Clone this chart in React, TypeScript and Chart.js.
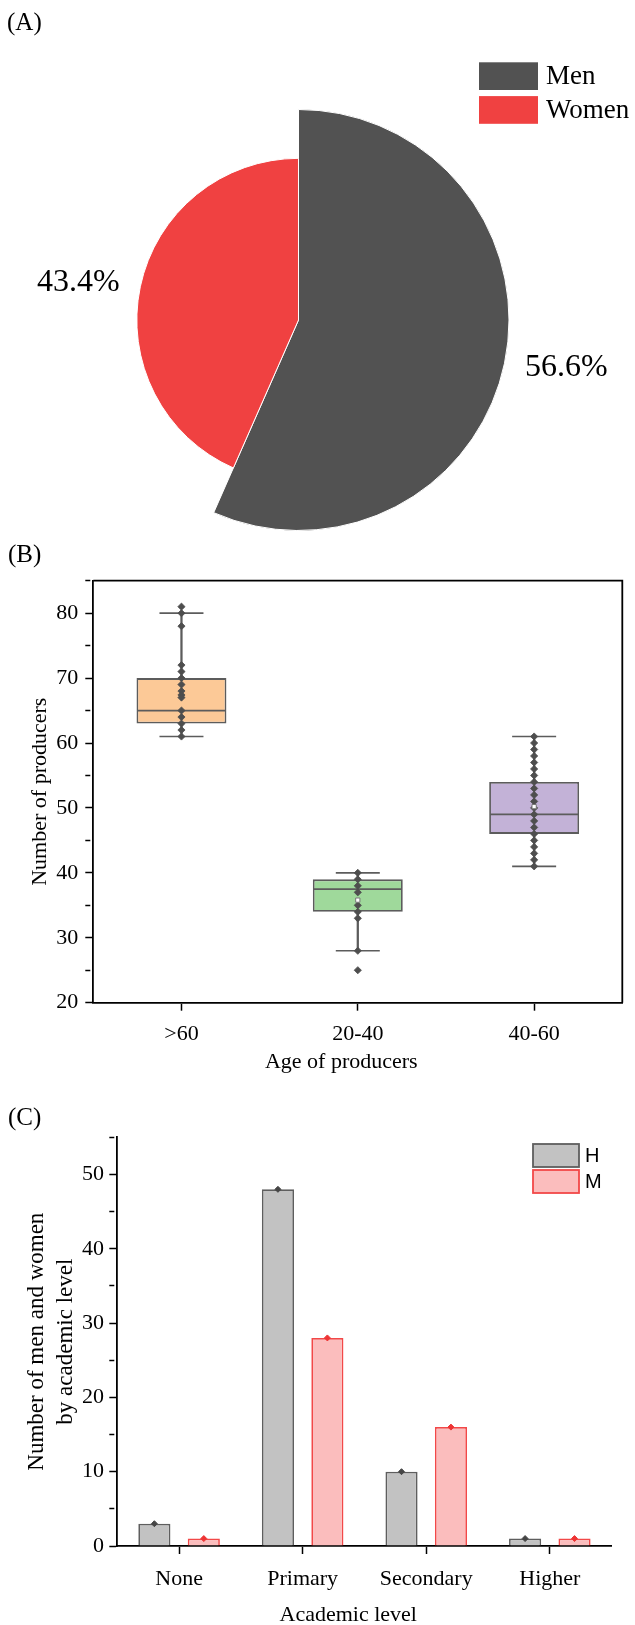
import React, { useEffect, useRef } from 'react';
import { Chart, registerables } from 'chart.js';

Chart.register(...registerables);

const SERIF = "'Liberation Serif', 'Times New Roman', Times, serif";
const SANS = "'Liberation Sans', Arial, sans-serif";

// ---------------- data ----------------
// (A) gender shares
const genderLabels = ['Men', 'Women'];
const genderShares = [56.6, 43.4];

// (B) age of producers
const ageGroups = ['>60', '20-40', '40-60'];
const ageQ1 = [63, 34, 46];
const ageQ3 = [70, 39, 54];
const ageMedian = [65, 37.5, 49];
const ageWhiskerLow = [61, 28, 41];
const ageWhiskerHigh = [80, 40, 61];
const ageMean = [null, 35.8, 50.2];
const agePointsOver60 = [81, 80, 78, 72, 71, 70, 69, 68, 67.4, 67, 65, 64, 63, 62, 61];
const agePoints20to40 = [40, 39, 38, 37, 35, 34, 33, 28, 25];
const agePoints40to60 = [61, 60, 59, 58, 57, 56, 55, 54, 53, 52, 51, 50, 49, 48, 47, 46, 45, 44, 43, 42, 41];
const ageYMin = 20;
const ageYMax = 85;

// (C) academic level
const academicLevels = ['None', 'Primary', 'Secondary', 'Higher'];
const seriesNames = ['H', 'M'];
const menByLevel = [3, 48, 10, 1];
const womenByLevel = [1, 28, 16, 1];
const levelYMin = 0;
const levelYMax = 55;

// ---------------- styles ----------------
const PIE_COLORS = ['#525252', '#F04141'];
const PIE_RADIUS_SCALE = [1, 0.768];
const BOX_FILLS = ['#FCC997', '#9FD99B', '#C3B2D7'];
const BOX_LINE = '#5C5C5C';
const DOT = '#4E4E4E';
const BAR_FILLS = ['#C2C2C2', '#FBBDBD'];
const BAR_LINES = ['#5E5E5E', '#F24848'];
const BAR_DOTS = ['#454545', '#EE3434'];
const AXIS_W = 1.8;
const GROUP_WIDTH = 0.8; // share of a category taken by the pair of bars
const GROUP_SHIFT = GROUP_WIDTH / 4; // centre of each bar relative to the category centre

const panelLabel = (text: string, x: number, y: number) => ({
  id: 'panelLabel',
  afterDraw(chart: any) {
    const ctx = chart.ctx;
    ctx.save();
    ctx.font = `25px ${SERIF}`;
    ctx.fillStyle = '#000';
    ctx.textAlign = 'left';
    ctx.textBaseline = 'alphabetic';
    ctx.fillText(text, x, y);
    ctx.restore();
  },
});

const xTitle = (text: string, dx: number, baseline: number) => ({
  id: 'xTitle',
  afterDraw(chart: any) {
    const { left, right } = chart.chartArea;
    const ctx = chart.ctx;
    ctx.save();
    ctx.font = `22px ${SERIF}`;
    ctx.fillStyle = '#000';
    ctx.textAlign = 'center';
    ctx.textBaseline = 'alphabetic';
    ctx.fillText(text, (left + right) / 2 + dx, baseline);
    ctx.restore();
  },
});

function pieConfig(): any {
  const radiusPlugin = {
    id: 'sliceRadius',
    afterDatasetsUpdate(chart: any) {
      const meta = chart.getDatasetMeta(0);
      meta.data.forEach((arc: any, i: number) => {
        arc.outerRadius = arc.outerRadius * PIE_RADIUS_SCALE[i];
      });
    },
  };
  const labelPlugin = {
    id: 'pieText',
    afterDraw(chart: any) {
      const ctx = chart.ctx;
      const meta = chart.getDatasetMeta(0);
      ctx.save();
      ctx.fillStyle = '#000';
      ctx.font = `32px ${SERIF}`;
      ctx.textBaseline = 'middle';
      meta.data.forEach((arc: any, i: number) => {
        const mid = (arc.startAngle + arc.endAngle) / 2;
        const r = arc.outerRadius + 21;
        const lx = arc.x + Math.cos(mid) * r;
        const ly = arc.y + Math.sin(mid) * r;
        ctx.textAlign = Math.cos(mid) >= 0 ? 'left' : 'right';
        ctx.fillText(genderShares[i].toFixed(1) + '%', lx, ly);
      });
      // legend
      ctx.font = `27px ${SERIF}`;
      ctx.textAlign = 'left';
      genderLabels.forEach((name, i) => {
        const top = 62.3 + i * 33.8;
        ctx.fillStyle = PIE_COLORS[i];
        ctx.fillRect(479, top, 59, 27.7);
        ctx.fillStyle = '#000';
        ctx.fillText(name, 546, top + 14.5);
      });
      ctx.restore();
    },
  };
  return {
    type: 'pie',
    data: {
      labels: genderLabels,
      datasets: [
        {
          data: genderShares,
          backgroundColor: PIE_COLORS,
          borderColor: '#ffffff',
          borderWidth: 1,
        },
      ],
    },
    options: {
      responsive: false,
      animation: false,
      events: [],
      layout: { autoPadding: false, padding: { left: 87.5, right: 125.5, top: 109, bottom: 9 } },
      plugins: { legend: { display: false }, tooltip: { enabled: false } },
    },
    plugins: [radiusPlugin, labelPlugin, panelLabel('(A)', 7, 29.6)],
  };
}

function boxConfig(): any {
  const pointData = [
    ...agePointsOver60.map((v) => ({ x: ageGroups[0], y: v })),
    ...agePoints20to40.map((v) => ({ x: ageGroups[1], y: v })),
    ...agePoints40to60.map((v) => ({ x: ageGroups[2], y: v })),
  ];
  const lineMarker = (data: any[], radius: number, order: number) => ({
    type: 'line',
    data,
    showLine: false,
    pointStyle: 'line',
    pointRadius: radius,
    pointBorderWidth: 1.7,
    pointBorderColor: BOX_LINE,
    borderColor: BOX_LINE,
    order,
  });
  const frame = {
    id: 'frame',
    afterDraw(chart: any) {
      const { left, right, top, bottom } = chart.chartArea;
      const ctx = chart.ctx;
      ctx.save();
      ctx.strokeStyle = '#000';
      ctx.lineWidth = AXIS_W;
      ctx.beginPath();
      ctx.moveTo(left, top);
      ctx.lineTo(right, top);
      ctx.lineTo(right, bottom);
      ctx.stroke();
      ctx.restore();
    },
  };
  const font = { family: SERIF, size: 22 };
  return {
    type: 'bar',
    data: {
      labels: ageGroups,
      datasets: [
        {
          type: 'bar',
          data: ageGroups.map((_, i) => [ageWhiskerLow[i], ageWhiskerHigh[i]]),
          backgroundColor: BOX_LINE,
          barThickness: 1.6,
          grouped: false,
          order: 10,
        },
        {
          type: 'bar',
          data: ageGroups.map((_, i) => [ageQ1[i], ageQ3[i]]),
          backgroundColor: BOX_FILLS,
          borderColor: BOX_LINE,
          borderWidth: 1.8,
          borderSkipped: false,
          barPercentage: 0.51,
          categoryPercentage: 1,
          grouped: false,
          order: 9,
        },
        lineMarker(ageMedian, 44, 8),
        lineMarker(ageWhiskerHigh, 22, 7),
        lineMarker(ageWhiskerLow, 22, 7),
        {
          type: 'line',
          data: pointData,
          showLine: false,
          pointStyle: 'rectRot',
          pointRadius: 3.6,
          pointBorderWidth: 0.8,
          pointBackgroundColor: DOT,
          pointBorderColor: DOT,
          borderColor: DOT,
          order: 2,
        },
        {
          type: 'line',
          data: ageMean,
          showLine: false,
          pointStyle: 'rect',
          pointRadius: 3,
          pointBorderWidth: 1,
          pointBackgroundColor: '#ffffff',
          pointBorderColor: '#777777',
          order: 1,
        },
      ],
    },
    options: {
      responsive: false,
      animation: false,
      events: [],
      layout: { autoPadding: false, padding: { left: 0, right: 12.7, top: 40.7, bottom: 0 } },
      plugins: { legend: { display: false }, tooltip: { enabled: false } },
      scales: {
        x: {
          type: 'category',
          offset: true,
          grid: {
            drawOnChartArea: false,
            drawTicks: true,
            offset: false,
            tickLength: 8,
            tickWidth: 1.5,
            tickColor: '#000',
          },
          border: { color: '#000', width: AXIS_W },
          ticks: { font, color: '#000', padding: 10, maxRotation: 0 },
          afterFit: (s: any) => {
            s.height = 77.3;
          },
        },
        y: {
          min: ageYMin,
          max: ageYMax,
          grid: {
            drawOnChartArea: false,
            tickLength: 8,
            tickWidth: 1.5,
            tickColor: '#000',
            tickBorderDash: (c: any) => (c.tick && c.tick.value % 10 === 0 ? [] : [5, 30]),
          },
          border: { color: '#000', width: AXIS_W },
          ticks: {
            stepSize: 5,
            autoSkip: false,
            font,
            color: '#000',
            padding: 7,
            callback: (v: any) => (v % 10 === 0 ? String(v) : ''),
          },
          title: {
            display: true,
            text: 'Number of producers',
            font,
            color: '#000',
            padding: { top: 26.8, bottom: 0 },
          },
          afterFit: (s: any) => {
            s.width = 93.3;
          },
        },
      },
    },
    plugins: [frame, xTitle('Age of producers', -16.5, 528), panelLabel('(B)', 8, 22.3)],
  };
}

function barConfig(): any {
  const legend = {
    id: 'hmLegend',
    afterDraw(chart: any) {
      const ctx = chart.ctx;
      ctx.save();
      ctx.font = `20px ${SANS}`;
      ctx.textAlign = 'left';
      ctx.textBaseline = 'middle';
      seriesNames.forEach((name, i) => {
        const top = 64 + i * 26;
        ctx.fillStyle = BAR_FILLS[i];
        ctx.fillRect(533, top, 46, 23);
        ctx.strokeStyle = BAR_LINES[i];
        ctx.lineWidth = 1.8;
        ctx.strokeRect(533, top, 46, 23);
        ctx.fillStyle = '#000';
        ctx.fillText(name, 585, top + 12);
      });
      ctx.restore();
    },
  };
  const font = { family: SERIF, size: 22 };
  const seriesValues = [menByLevel, womenByLevel];
  const shift = (k: number) => (k === 0 ? -GROUP_SHIFT : GROUP_SHIFT);
  const barSets = seriesValues.map((vals, k) => ({
    type: 'bar',
    label: seriesNames[k],
    data: vals.map((v, i) => ({ x: i + shift(k), y: v })),
    backgroundColor: BAR_FILLS[k],
    borderColor: BAR_LINES[k],
    borderWidth: 1.7,
    grouped: false,
    categoryPercentage: 1,
    barPercentage: 0.65,
    order: 3,
  }));
  const dotSets = seriesValues.map((vals, k) => ({
    type: 'line',
    data: vals.map((v, i) => ({ x: i + shift(k), y: v })),
    showLine: false,
    pointStyle: 'rectRot',
    pointRadius: 3,
    pointBorderWidth: 1,
    pointBackgroundColor: BAR_DOTS[k],
    pointBorderColor: BAR_DOTS[k],
    borderColor: BAR_DOTS[k],
    order: 1,
  }));
  return {
    type: 'bar',
    data: { datasets: [...barSets, ...dotSets] },
    options: {
      responsive: false,
      animation: false,
      events: [],
      layout: { autoPadding: false, padding: { left: 0, right: 23.4, top: 57.3, bottom: 0 } },
      plugins: { legend: { display: false }, tooltip: { enabled: false } },
      scales: {
        x: {
          type: 'linear',
          min: -0.5,
          max: academicLevels.length - 0.5,
          offset: false,
          afterBuildTicks: (s: any) => {
            s.ticks = academicLevels.map((_, i) => ({ value: i }));
          },
          grid: {
            drawOnChartArea: false,
            offset: false,
            tickLength: 8,
            tickWidth: 1.5,
            tickColor: '#000',
          },
          border: { color: '#000', width: AXIS_W },
          ticks: {
            font,
            color: '#000',
            padding: 12,
            maxRotation: 0,
            autoSkip: false,
            callback: (v: any) => academicLevels[Math.round(v)] ?? '',
          },
          afterFit: (s: any) => {
            s.height = 79;
          },
        },
        y: {
          min: levelYMin,
          max: levelYMax,
          grid: {
            drawOnChartArea: false,
            tickLength: 8,
            tickWidth: 1.5,
            tickColor: '#000',
            tickBorderDash: (c: any) => (c.tick && c.tick.value % 10 === 0 ? [] : [5, 30]),
          },
          border: { color: '#000', width: AXIS_W },
          ticks: {
            stepSize: 5,
            autoSkip: false,
            font,
            color: '#000',
            padding: 5.3,
            callback: (v: any) => (v % 10 === 0 ? String(v) : ''),
          },
          title: {
            display: true,
            text: ['Number of men and women', 'by academic level'],
            font: { family: SERIF, size: 23, lineHeight: 1.24 },
            color: '#000',
            padding: { top: 22.7, bottom: 0 },
          },
          afterFit: (s: any) => {
            s.width = 117.3;
          },
        },
      },
    },
    plugins: [legend, xTitle('Academic level', -16.2, 541.3), panelLabel('(C)', 8, 44.9)],
  };
}

export default function App() {
  const aRef = useRef<HTMLCanvasElement | null>(null);
  const bRef = useRef<HTMLCanvasElement | null>(null);
  const cRef = useRef<HTMLCanvasElement | null>(null);

  useEffect(() => {
    document.body.style.margin = '0';
    document.body.style.background = '#ffffff';
    let charts: any[] = [];
    let cancelled = false;
    const build = () => {
      if (cancelled) return;
      charts.forEach((c) => c.destroy());
      charts = [
        new Chart(aRef.current as HTMLCanvasElement, pieConfig()),
        new Chart(bRef.current as HTMLCanvasElement, boxConfig()),
        new Chart(cRef.current as HTMLCanvasElement, barConfig()),
      ];
    };
    build();
    const fonts = [
      '22px "Liberation Serif"',
      '32px "Liberation Serif"',
      '20px "Liberation Sans"',
    ];
    if ((document as any).fonts && (document as any).fonts.load) {
      Promise.all(fonts.map((f) => (document as any).fonts.load(f)))
        .then(() => build())
        .catch(() => {});
    }
    return () => {
      cancelled = true;
      charts.forEach((c) => c.destroy());
    };
  }, []);

  const canvasStyle = (top: number, h: number): React.CSSProperties => ({
    position: 'absolute',
    left: 0,
    top,
    width: 635,
    height: h,
    display: 'block',
  });

  return (
    <div style={{ position: 'relative', width: 635, height: 1625, background: '#fff', overflow: 'hidden' }}>
      <canvas ref={aRef} width={635} height={540} style={canvasStyle(0, 540)} />
      <canvas ref={bRef} width={635} height={540} style={canvasStyle(540, 540)} />
      <canvas ref={cRef} width={635} height={545} style={canvasStyle(1080, 545)} />
    </div>
  );
}
